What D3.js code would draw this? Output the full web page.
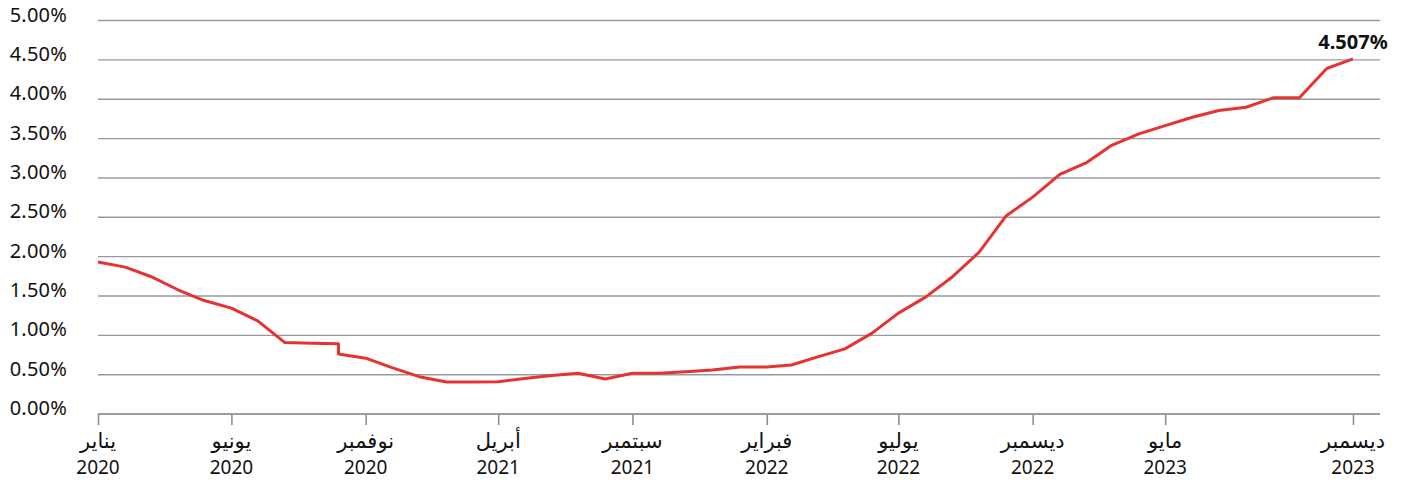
<!DOCTYPE html>
<html>
<head>
<meta charset="utf-8">
<script src="https://cdn.jsdelivr.net/npm/d3@7"></script>
<style>
  html, body { margin:0; padding:0; background:#fff; }
  svg text { font-family: 'Noto Sans', 'DejaVu Sans', sans-serif; fill:#111; }
</style>
</head>
<body>
<div id="chart"></div>
<script>
// monthly rate, Oct 2020 has two readings (series break)
var months = [
  '2020-01','2020-02','2020-03','2020-04','2020-05','2020-06','2020-07','2020-08','2020-09','2020-10','2020-10','2020-11','2020-12',
  '2021-01','2021-02','2021-03','2021-04','2021-05','2021-06','2021-07','2021-08','2021-09','2021-10','2021-11','2021-12',
  '2022-01','2022-02','2022-03','2022-04','2022-05','2022-06','2022-07','2022-08','2022-09','2022-10','2022-11','2022-12',
  '2023-01','2023-02','2023-03','2023-04','2023-05','2023-06','2023-07','2023-08','2023-09','2023-10','2023-11','2023-12'
];
var rates = [
  1.925,1.861,1.742,1.573,1.436,1.340,1.178,0.902,0.894,0.886,0.758,0.704,0.584,
  0.469,0.402,0.402,0.406,0.447,0.485,0.513,0.440,0.513,0.513,0.533,0.555,
  0.593,0.593,0.618,0.724,0.822,1.022,1.276,1.480,1.742,2.050,2.514,2.750,
  3.040,3.192,3.408,3.553,3.659,3.765,3.850,3.892,4.011,4.011,4.384,4.507
];
var tickMonths = ['2020-01','2020-06','2020-11','2021-04','2021-09','2022-02','2022-07','2022-12','2023-05','2023-12'];
var tickNames  = ['يناير','يونيو','نوفمبر','أبريل','سبتمبر','فبراير','يوليو','ديسمبر','مايو','ديسمبر'];
var tickYears  = ['2020','2020','2020','2021','2021','2022','2022','2022','2023','2023'];
var yTicks = [0,0.5,1,1.5,2,2.5,3,3.5,4,4.5,5];
var lastLabel = '4.507%';

var W = 1411, H = 484;
var mLeft = 98, mRight = 1380, mTop = 20, mBottom = 413.6;
var parse = d3.utcParse('%Y-%m');

var data = months.map(function(m,i) { return {date: parse(m), v: rates[i]}; });

var x = d3.scaleUtc()
  .domain([parse('2020-01'), parse('2023-12')])
  .range([mLeft, 1353]);
var y = d3.scaleLinear()
  .domain([0,5])
  .range([mBottom, mTop]);

var svg = d3.select('#chart').append('svg')
  .attr('width', W)
  .attr('height', H);

// horizontal grid + y labels
var gy = svg.append('g')
  .attr('transform', 'translate('+mLeft+',0)')
  .call(d3.axisLeft(y).tickValues(yTicks).tickSize(-(mRight-mLeft)).tickFormat(function(d){ return d3.format('.2f')(d)+'%'; }));
gy.select('.domain').remove();
gy.selectAll('.tick line')
  .attr('stroke', '#939ba1')
  .attr('stroke-width', 1.4);
gy.selectAll('.tick text')
  .attr('x', -31)
  .attr('dy', '0.05em')
  .attr('font-size', '20px')
  .attr('letter-spacing', '0.2px')
  .style('fill', '#111');

// bottom axis
var gx = svg.append('g')
  .attr('transform', 'translate(0,'+(mBottom+0.4)+')')
  .call(d3.axisBottom(x).tickValues(tickMonths.map(parse)).tickSize(11).tickFormat(''));
gx.select('.domain')
  .attr('d', 'M'+mLeft+',0H'+mRight)
  .attr('stroke', '#8a9298')
  .attr('stroke-width', 1.6);
gx.selectAll('.tick line')
  .attr('stroke', '#8a9298')
  .attr('stroke-width', 1.6);

var lab = svg.append('g').selectAll('g')
  .data(tickMonths)
  .enter()
  .append('g')
  .attr('transform', function(d){ return 'translate('+x(parse(d))+',0)'; });
lab.append('text')
  .attr('y', 448)
  .attr('text-anchor', 'middle')
  .attr('font-size', '21px')
  .text(function(d,i){ return tickNames[i]; });
lab.append('text')
  .attr('y', 474)
  .attr('text-anchor', 'middle')
  .attr('font-size', '19px')
  .text(function(d,i){ return tickYears[i]; });

// the rate line
var line = d3.line()
  .x(function(d){ return x(d.date); })
  .y(function(d){ return y(d.v); });
svg.append('path')
  .datum(data)
  .attr('d', line)
  .attr('fill', 'none')
  .attr('stroke', '#e63331')
  .attr('stroke-width', 3)
  .attr('stroke-linejoin', 'round');

var last = data[data.length-1];
svg.append('text')
  .attr('x', x(last.date))
  .attr('y', y(last.v) - 10)
  .attr('text-anchor', 'middle')
  .attr('font-size', '20px')
  .attr('font-weight', 'bold')
  .text(lastLabel);
</script>
</body>
</html>
